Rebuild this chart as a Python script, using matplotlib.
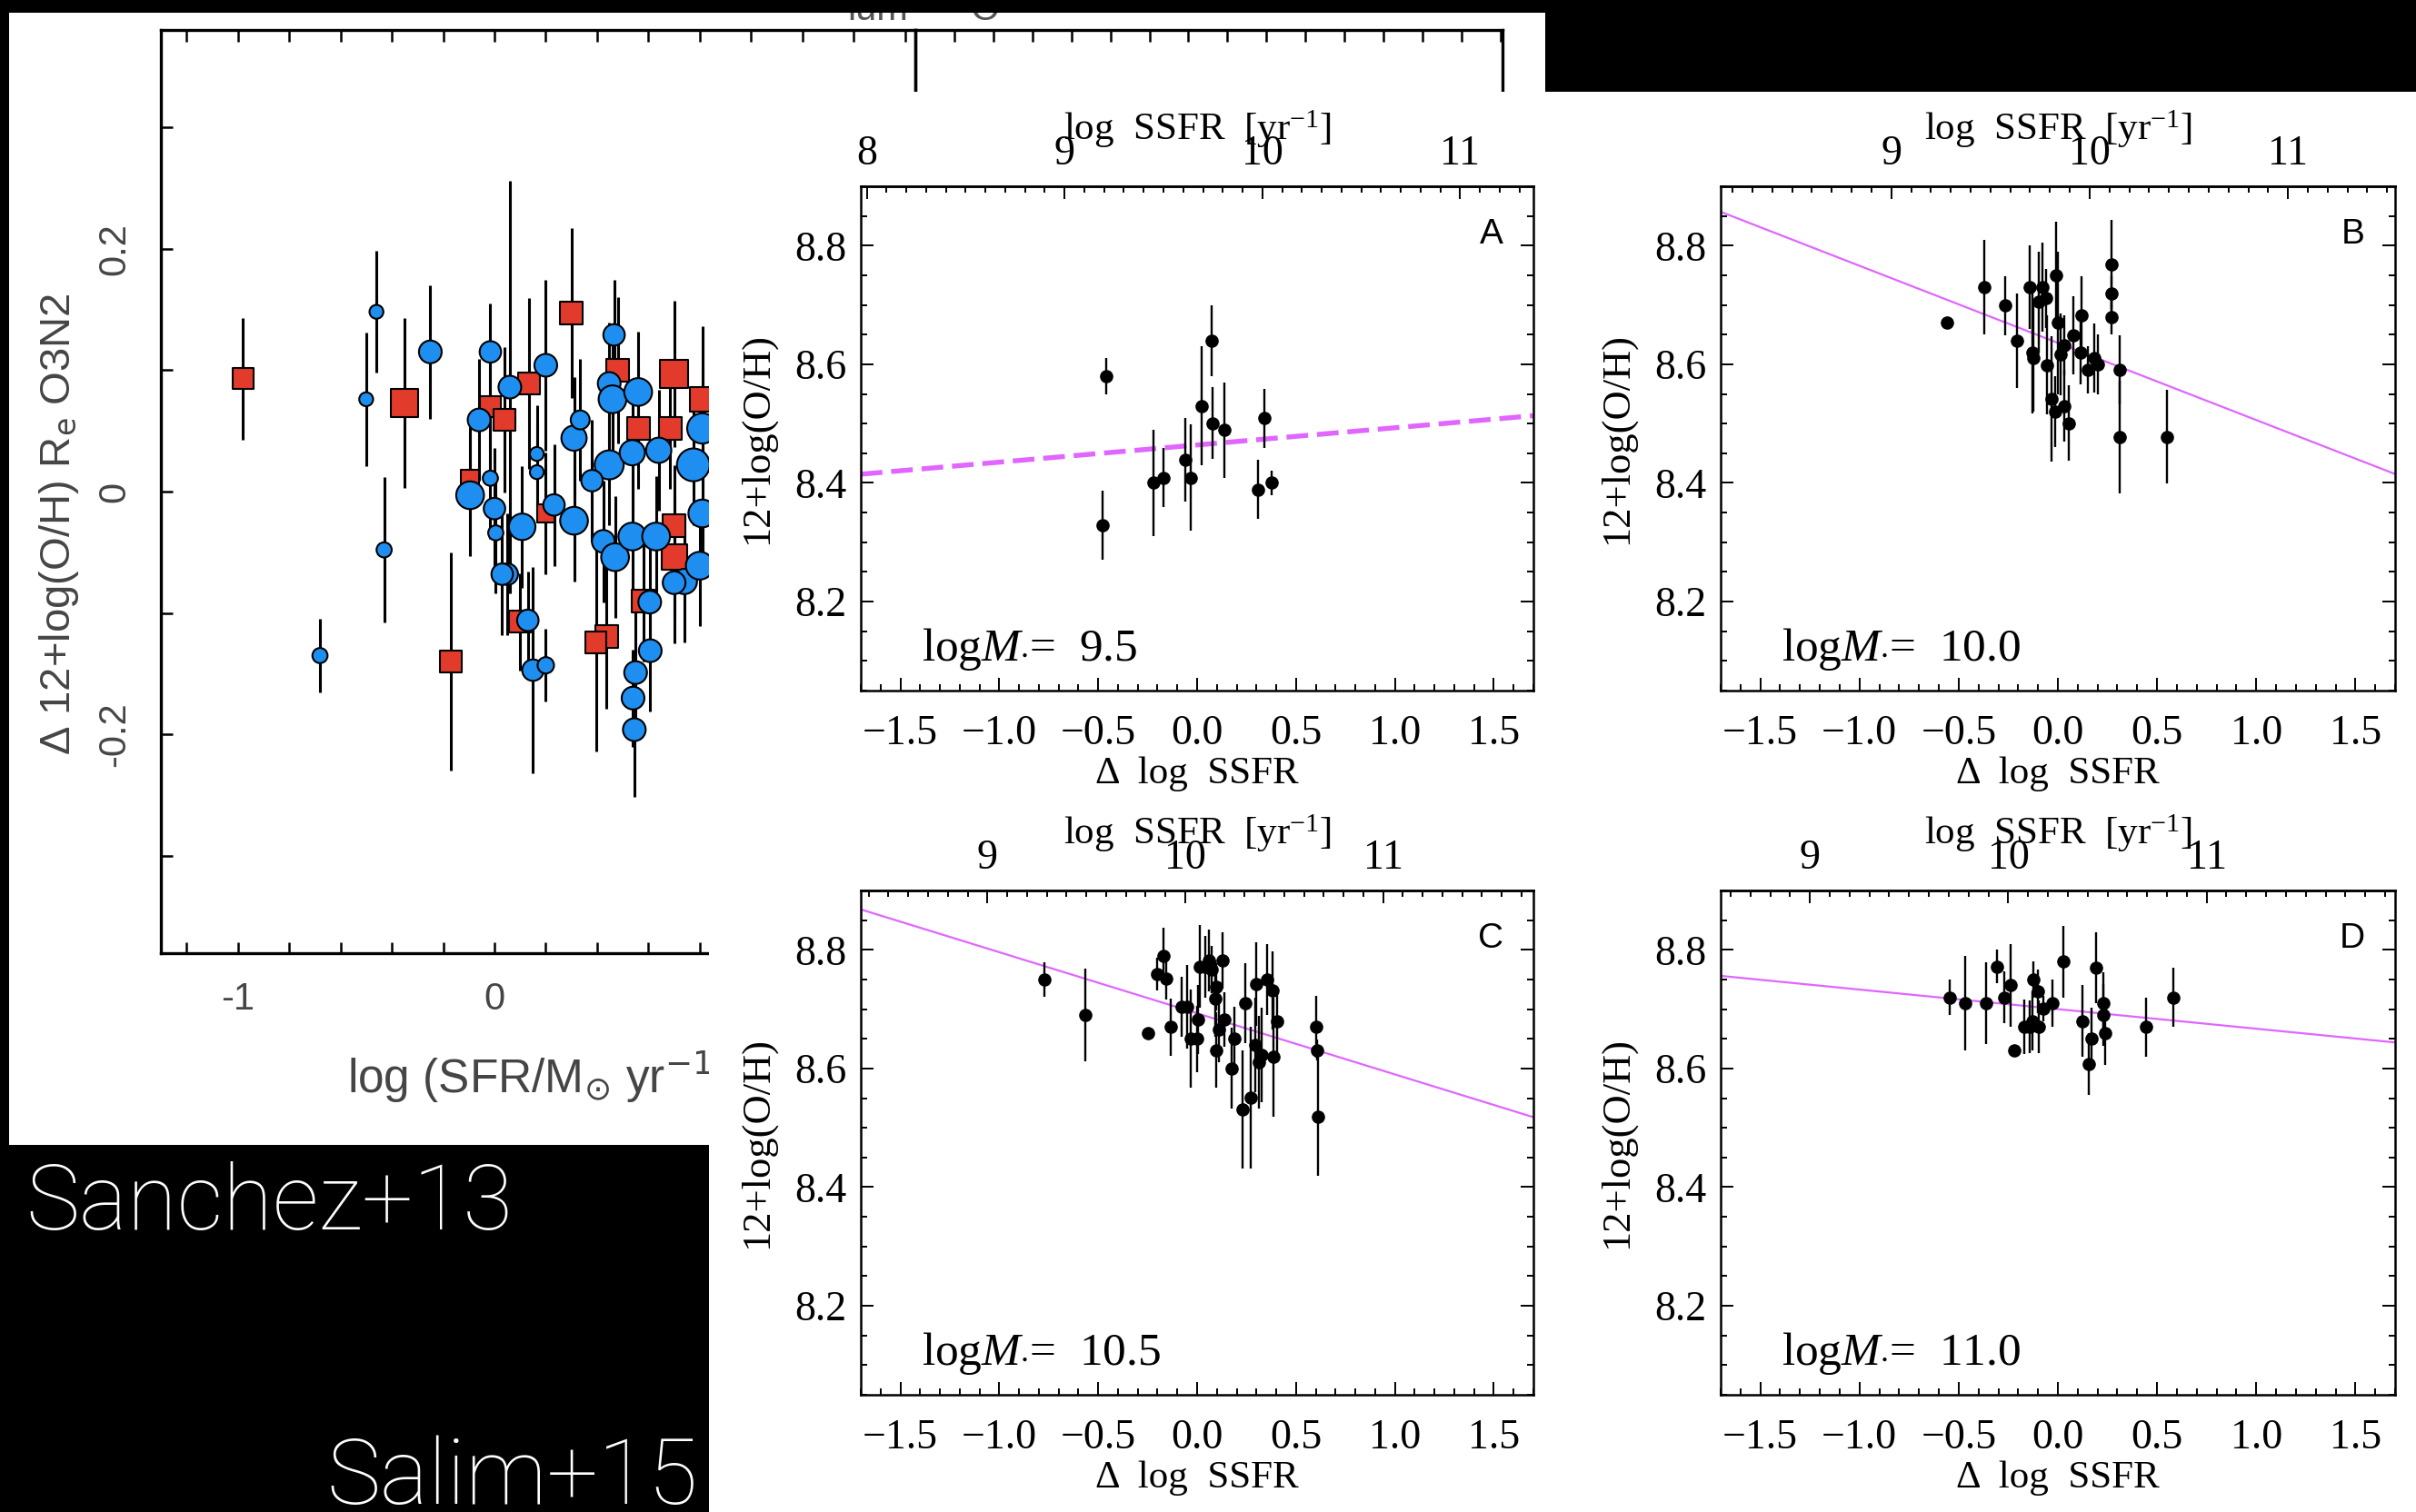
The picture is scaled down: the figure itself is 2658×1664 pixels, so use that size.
import numpy as np
import matplotlib
matplotlib.use('Agg')
import matplotlib.pyplot as plt
from matplotlib.patches import Rectangle
from matplotlib.ticker import MultipleLocator, FormatStrFormatter, FuncFormatter

W, H = 2658, 1664

# ---- Sanchez+13: metallicity offset vs log SFR (left, partly covered) ----
san_x = [-0.98, -0.46, -0.50, -0.35, -0.25, -0.43, -0.016, 0.30, 0.466, 0.06,
         0.135, 0.20, -0.016, 0.04, -0.06, 0.48, 0.70, 0.447, 0.46, 0.56,
         0.56, 0.685, 0.81, 0.81, 0.447, 0.38, 0.537, 0.64, 0.775, 0.31,
         0.334, 0.165, 0.165, -0.095, -0.016, 0.0, 0.108, 0.005, 0.232, 0.31,
         0.424, 0.47, 0.537, 0.63, 0.74, 0.605, 0.05, 0.13, 0.436, 0.70,
         0.70, 0.81, 0.80, -0.095, 0.20, -0.68, -0.17, 0.03, 0.10, 0.15,
         0.20, 0.395, 0.55, 0.54, 0.545, 0.58, 0.607, 0.70]
san_y = [0.093, 0.148, 0.076, 0.073, 0.115, -0.048, 0.115, 0.147, 0.129, 0.086,
         0.089, 0.104, 0.070, 0.059, 0.059, 0.100, 0.097, 0.089, 0.076, 0.082,
         0.052, 0.052, 0.076, 0.052, 0.022, 0.009, 0.032, 0.034, 0.022, 0.044,
         0.059, 0.031, 0.016, -0.003, 0.011, -0.014, -0.029, -0.034, -0.011, -0.024,
         -0.041, -0.054, -0.037, -0.037, -0.074, -0.091, -0.068, -0.106, -0.119, -0.054,
         -0.028, -0.018, -0.061, 0.011, -0.018, -0.135, -0.140, -0.068, -0.107, -0.147,
         -0.143, -0.124, -0.149, -0.170, -0.196, -0.090, -0.131, -0.075]
san_err = [0.05, 0.05, 0.055, 0.07, 0.055, 0.06, 0.04, 0.07, 0.045, 0.17,
           0.07, 0.07, 0.05, 0.06, 0.05, 0.06, 0.06, 0.05, 0.05, 0.05,
           0.05, 0.05, 0.06, 0.05, 0.05, 0.05, 0.05, 0.05, 0.05, 0.05,
           0.05, 0.04, 0.04, 0.05, 0.05, 0.05, 0.05, 0.05, 0.05, 0.05,
           0.05, 0.05, 0.05, 0.05, 0.05, 0.05, 0.05, 0.04, 0.06, 0.05,
           0.05, 0.05, 0.05, 0.05, 0.05, 0.03, 0.09, 0.05, 0.04, 0.085,
           0.03, 0.09, 0.05, 0.04, 0.055, 0.05, 0.05, 0.05]
san_kind = list('sooso' 'ooso' 'o' 'sosso' 'ssooo' 'sssoo' 'ooooo' 'ooooo'
                'ooooo' 'ooooo' 'oooss' 'sooss' 'ososo' 'osooo' 'soo')
san_size = [17, 11, 11, 22, 18, 12, 17, 18, 17, 18,
            17, 18, 17, 17, 18, 18, 22, 18, 22, 22,
            18, 18, 20, 24, 23, 17, 20, 20, 26, 20,
            15, 11, 11, 22, 12, 17, 21, 12, 17, 22,
            18, 22, 22, 22, 20, 18, 17, 17, 18, 20,
            18, 22, 22, 14, 14, 12, 17, 17, 17, 17,
            13, 17, 18, 18, 18, 18, 18, 18]

# ---- Salim+15: 12+log(O/H) vs delta log SSFR in four mass bins ----
a_dssfr = [-0.46, -0.48, -0.22, -0.17, -0.06, -0.03, 0.025, 0.075, 0.08, 0.137, 0.31, 0.34, 0.377]
a_oh = [8.580, 8.329, 8.400, 8.409, 8.439, 8.409, 8.530, 8.640, 8.501, 8.489, 8.389, 8.509, 8.400]
a_err = [0.03, 0.058, 0.09, 0.05, 0.07, 0.09, 0.10, 0.06, 0.06, 0.08, 0.05, 0.05, 0.02]

b_dssfr = [-0.56, -0.37, -0.267, -0.204, -0.14, -0.13, -0.125, -0.08, -0.097, -0.06,
           -0.053, -0.007, 0.0, -0.03, -0.015, 0.012, 0.034, 0.03, 0.056, 0.08,
           0.12, 0.116, 0.15, 0.185, 0.20, 0.27, 0.27, 0.27, 0.31, 0.31, 0.55]
b_oh = [8.670, 8.730, 8.699, 8.640, 8.730, 8.620, 8.610, 8.730, 8.705, 8.711,
        8.599, 8.750, 8.670, 8.542, 8.520, 8.617, 8.632, 8.530, 8.501, 8.649,
        8.682, 8.620, 8.591, 8.611, 8.600, 8.769, 8.719, 8.680, 8.591, 8.478, 8.478]
b_err = [0.005, 0.079, 0.05, 0.08, 0.07, 0.103, 0.09, 0.075, 0.085, 0.05,
         0.083, 0.09, 0.12, 0.106, 0.06, 0.069, 0.05, 0.06, 0.064, 0.066,
         0.066, 0.054, 0.04, 0.058, 0.05, 0.075, 0.03, 0.03, 0.058, 0.095, 0.079]

c_dssfr = [-0.77, -0.567, -0.246, -0.20, -0.17, -0.154, -0.134, -0.078, -0.05, -0.03,
           0.0, 0.006, 0.014, 0.04, 0.06, 0.075, 0.09, 0.098, 0.098, 0.11,
           0.13, 0.137, 0.173, 0.187, 0.23, 0.243, 0.27, 0.293, 0.30, 0.313,
           0.327, 0.355, 0.383, 0.388, 0.405, 0.60, 0.606, 0.61]
c_oh = [8.750, 8.690, 8.660, 8.759, 8.790, 8.752, 8.670, 8.704, 8.704, 8.650,
        8.650, 8.682, 8.772, 8.772, 8.782, 8.767, 8.718, 8.738, 8.631, 8.666,
        8.782, 8.682, 8.600, 8.650, 8.531, 8.710, 8.551, 8.640, 8.742, 8.611,
        8.623, 8.750, 8.732, 8.619, 8.680, 8.670, 8.631, 8.519]
c_err = [0.029, 0.078, 0.005, 0.028, 0.047, 0.036, 0.048, 0.05, 0.07, 0.083,
         0.056, 0.058, 0.07, 0.052, 0.052, 0.04, 0.064, 0.04, 0.064, 0.056,
         0.048, 0.046, 0.068, 0.054, 0.10, 0.068, 0.12, 0.08, 0.07, 0.078,
         0.08, 0.06, 0.066, 0.10, 0.052, 0.052, 0.018, 0.10]

d_dssfr = [-0.547, -0.467, -0.36, -0.305, -0.27, -0.24, -0.218, -0.171, -0.144, -0.125,
           -0.13, -0.103, -0.097, -0.075, -0.026, 0.029, 0.122, 0.157, 0.171, 0.193,
           0.23, 0.23, 0.24, 0.445, 0.582]
d_oh = [8.720, 8.710, 8.710, 8.772, 8.720, 8.740, 8.631, 8.670, 8.670, 8.750,
        8.680, 8.730, 8.670, 8.701, 8.710, 8.780, 8.680, 8.608, 8.650, 8.770,
        8.710, 8.690, 8.660, 8.670, 8.720]
d_err = [0.03, 0.08, 0.069, 0.028, 0.043, 0.07, 0.005, 0.046, 0.044, 0.03,
         0.05, 0.036, 0.044, 0.022, 0.04, 0.06, 0.06, 0.052, 0.052, 0.06,
         0.052, 0.052, 0.054, 0.05, 0.05]

panel_letters = ['A', 'B', 'C', 'D']
panel_mass = ['9.5', '10.0', '10.5', '11.0']
ssfr_offset = [9.67, 9.84, 10.06, 10.25]
fit_slope = [0.029, -0.130, -0.103, -0.033]
fit_icpt = [8.464, 8.636, 8.693, 8.700]


def px_rect(x0, y0, x1, y1):
    return [x0 / W, 1 - y1 / H, (x1 - x0) / W, (y1 - y0) / H]


def signed_label(v, pos):
    # IDL-style labels with a proper minus sign
    s = '%.1f' % abs(v)
    return ('\u2212' + s) if v < -1e-9 else s


plt.rcParams['font.family'] = ['Liberation Serif', 'DejaVu Serif']
plt.rcParams['mathtext.fontset'] = 'custom'
plt.rcParams['mathtext.rm'] = 'Liberation Serif'
plt.rcParams['mathtext.it'] = 'Liberation Serif:italic'

fig = plt.figure(figsize=(W / 100, H / 100), dpi=100, facecolor='black')

# white page behind the left figure, and behind the right one
fig.add_artist(Rectangle((10 / W, 1 - 1260 / H), 1690 / W, 1246 / H, transform=fig.transFigure,
                         facecolor='white', edgecolor='none', zorder=-5))
fig.add_artist(Rectangle((780 / W, 0), (W - 780) / W, (H - 101) / H, transform=fig.transFigure,
                         facecolor='white', edgecolor='none', zorder=1))
# black strip along the top edge hides whatever pokes above the page
fig.add_artist(Rectangle((0, 1 - 14 / H), 1700 / W, 14 / H, transform=fig.transFigure,
                         facecolor='black', edgecolor='none', zorder=10))

# -------- left figure --------
sans = 'Liberation Sans'
grey = '#454545'
ax0 = fig.add_axes(px_rect(177, 33, 1007, 1049), facecolor='none')
ax0.set_xlim(-1.3, 1.64)
ax0.set_ylim(-0.38, 0.38)
ax0.errorbar(san_x, san_y, yerr=san_err, fmt='none', ecolor='black', elinewidth=2.2, capsize=0, zorder=2)
kinds = np.array(san_kind)
sx, sy, ss = np.array(san_x), np.array(san_y), np.array(san_size, dtype=float)
sq = kinds == 's'
ax0.scatter(sx[sq], sy[sq], s=ss[sq] ** 2, marker='s', c='#e23b2b', edgecolors='black', linewidths=1.5, zorder=3)
ax0.scatter(sx[~sq], sy[~sq], s=ss[~sq] ** 2, marker='o', c='#1e8ef0', edgecolors='black', linewidths=1.5, zorder=4)

ax0.set_xticks([-1, 0, 1], labels=['-1', '0', '1'], fontfamily=sans)
ax0.set_yticks([-0.2, 0, 0.2], labels=['-0.2', '0', '0.2'], fontfamily=sans, rotation=90, va='center')
ax0.xaxis.set_minor_locator(MultipleLocator(0.2))
ax0.yaxis.set_minor_locator(MultipleLocator(0.1))
ax0.tick_params(which='both', direction='in', top=True, right=False, length=9, width=1.8,
                labelsize=30, labelcolor=grey)
ax0.tick_params(axis='x', pad=22)
ax0.tick_params(axis='y', pad=22)
for sp in ax0.spines.values():
    sp.set_linewidth(2.4)
ax0.set_ylabel('Δ 12+log(O/H) R$_{\\mathrm{e}}$ O3N2', fontfamily=sans, fontsize=34, color=grey,
               math_fontfamily='dejavusans')
ax0.yaxis.set_label_coords(-0.106, 0.465)
ax0.set_xlabel('log (SFR/M$_{\\odot}$ yr$^{-1}$)', fontfamily=sans, fontsize=37, color=grey,
               math_fontfamily='dejavusans', ha='left')
ax0.xaxis.set_label_coords(0.247, -0.104)
# bottoms of the heading letters peeking under the top edge
ax0.text(932 / W, 1 - 22 / H, 'lum', transform=fig.transFigure, fontfamily=sans, fontsize=30,
         color='#555555', ha='left', va='baseline')
ax0.text(1068 / W, 1 - 22 / H, 'O', transform=fig.transFigure, fontfamily=sans, fontsize=30,
         color='#555555', ha='left', va='baseline')

# neighbouring panel of the left figure, only its top edge shows
ax0b = fig.add_axes(px_rect(1007, 33, 1653, 1049), facecolor='none')
ax0b.set_xlim(0, 15.05)
ax0b.set_ylim(0, 1)
ax0b.xaxis.set_major_locator(MultipleLocator(1))
ax0b.set_yticks([])
ax0b.tick_params(direction='in', top=True, bottom=False, labelbottom=False, length=9, width=1.8)
for sp in ax0b.spines.values():
    sp.set_linewidth(2.4)

# -------- right figure: four mass bins --------
panel_rects = [(947, 205, 1687, 760), (1893, 205, 2635, 760),
               (947, 980, 1687, 1535), (1893, 980, 2635, 1535)]
panel_data = [(a_dssfr, a_oh, a_err), (b_dssfr, b_oh, b_err),
              (c_dssfr, c_oh, c_err), (d_dssfr, d_oh, d_err)]
magenta = '#e066ff'

for i, (rect, (dx, oh, err)) in enumerate(zip(panel_rects, panel_data)):
    ax = fig.add_axes(px_rect(*rect), zorder=2)
    ax.set_xlim(-1.7, 1.7)
    ax.set_ylim(8.05, 8.9)
    ax.errorbar(dx, oh, yerr=err, fmt='o', color='black', ms=9.5, elinewidth=1.7, capsize=0, zorder=3)
    xx = np.array([-1.7, 1.7])
    if i == 0:
        ax.plot(xx, fit_icpt[i] + fit_slope[i] * xx, color=magenta, lw=3.9, dashes=(4.4, 1.8), zorder=2)
    else:
        ax.plot(xx, fit_icpt[i] + fit_slope[i] * xx, color=magenta, lw=1.6, zorder=2)

    ax.xaxis.set_major_locator(MultipleLocator(0.5))
    ax.xaxis.set_minor_locator(MultipleLocator(0.1))
    ax.xaxis.set_major_formatter(FuncFormatter(signed_label))
    ax.yaxis.set_major_locator(MultipleLocator(0.2))
    ax.yaxis.set_minor_locator(MultipleLocator(0.05))
    ax.yaxis.set_major_formatter(FormatStrFormatter('%.1f'))
    ax.tick_params(which='both', direction='in', right=True, top=False, width=1.4, labelsize=33)
    ax.tick_params(which='major', length=10)
    ax.tick_params(which='minor', length=5)
    ax.tick_params(axis='x', pad=19)
    ax.tick_params(axis='y', pad=11)
    for sp in ax.spines.values():
        sp.set_linewidth(1.8)

    off = ssfr_offset[i]
    top = ax.secondary_xaxis('top', functions=(lambda x, o=off: x + o, lambda x, o=off: x - o))
    top.xaxis.set_major_locator(MultipleLocator(1))
    top.xaxis.set_minor_locator(MultipleLocator(0.1))
    top.xaxis.set_major_formatter(FormatStrFormatter('%d'))
    top.tick_params(which='both', direction='in', width=1.4, labelsize=33, pad=10)
    top.tick_params(which='major', length=10)
    top.tick_params(which='minor', length=5)
    top.spines['top'].set_linewidth(1.8)
    ax.text(0.5, 1.092, 'log  SSFR  [yr$^{-1}$]', transform=ax.transAxes, fontsize=31,
            ha='center', va='baseline')

    ax.set_xlabel('Δ  log  SSFR', fontsize=31)
    ax.xaxis.set_label_coords(0.5, -0.13)
    ax.set_ylabel('12+log(O/H)', fontsize=32)
    ax.yaxis.set_label_coords(-0.127, 0.5)

    ax.text(0.937, 0.905, panel_letters[i], transform=ax.transAxes, fontfamily=sans,
            fontsize=28, ha='center', va='center')
    ax.text(0.09, 0.06, 'log$M_{\\bullet}$=  ' + panel_mass[i], transform=ax.transAxes,
            fontsize=37, ha='left', va='baseline')

fig.text(28 / W, 1 - 1353 / H, 'Sanchez+13', color='white', fontsize=72,
         fontfamily=['Roboto', 'DejaVu Sans'], fontweight='light', ha='left', va='baseline')
fig.text(768 / W, 1 - 1655 / H, 'Salim+15', color='white', fontsize=72,
         fontfamily=['Roboto', 'DejaVu Sans'], fontweight='light', ha='right', va='baseline')

fig.savefig('out.png', dpi=100, facecolor='black')
